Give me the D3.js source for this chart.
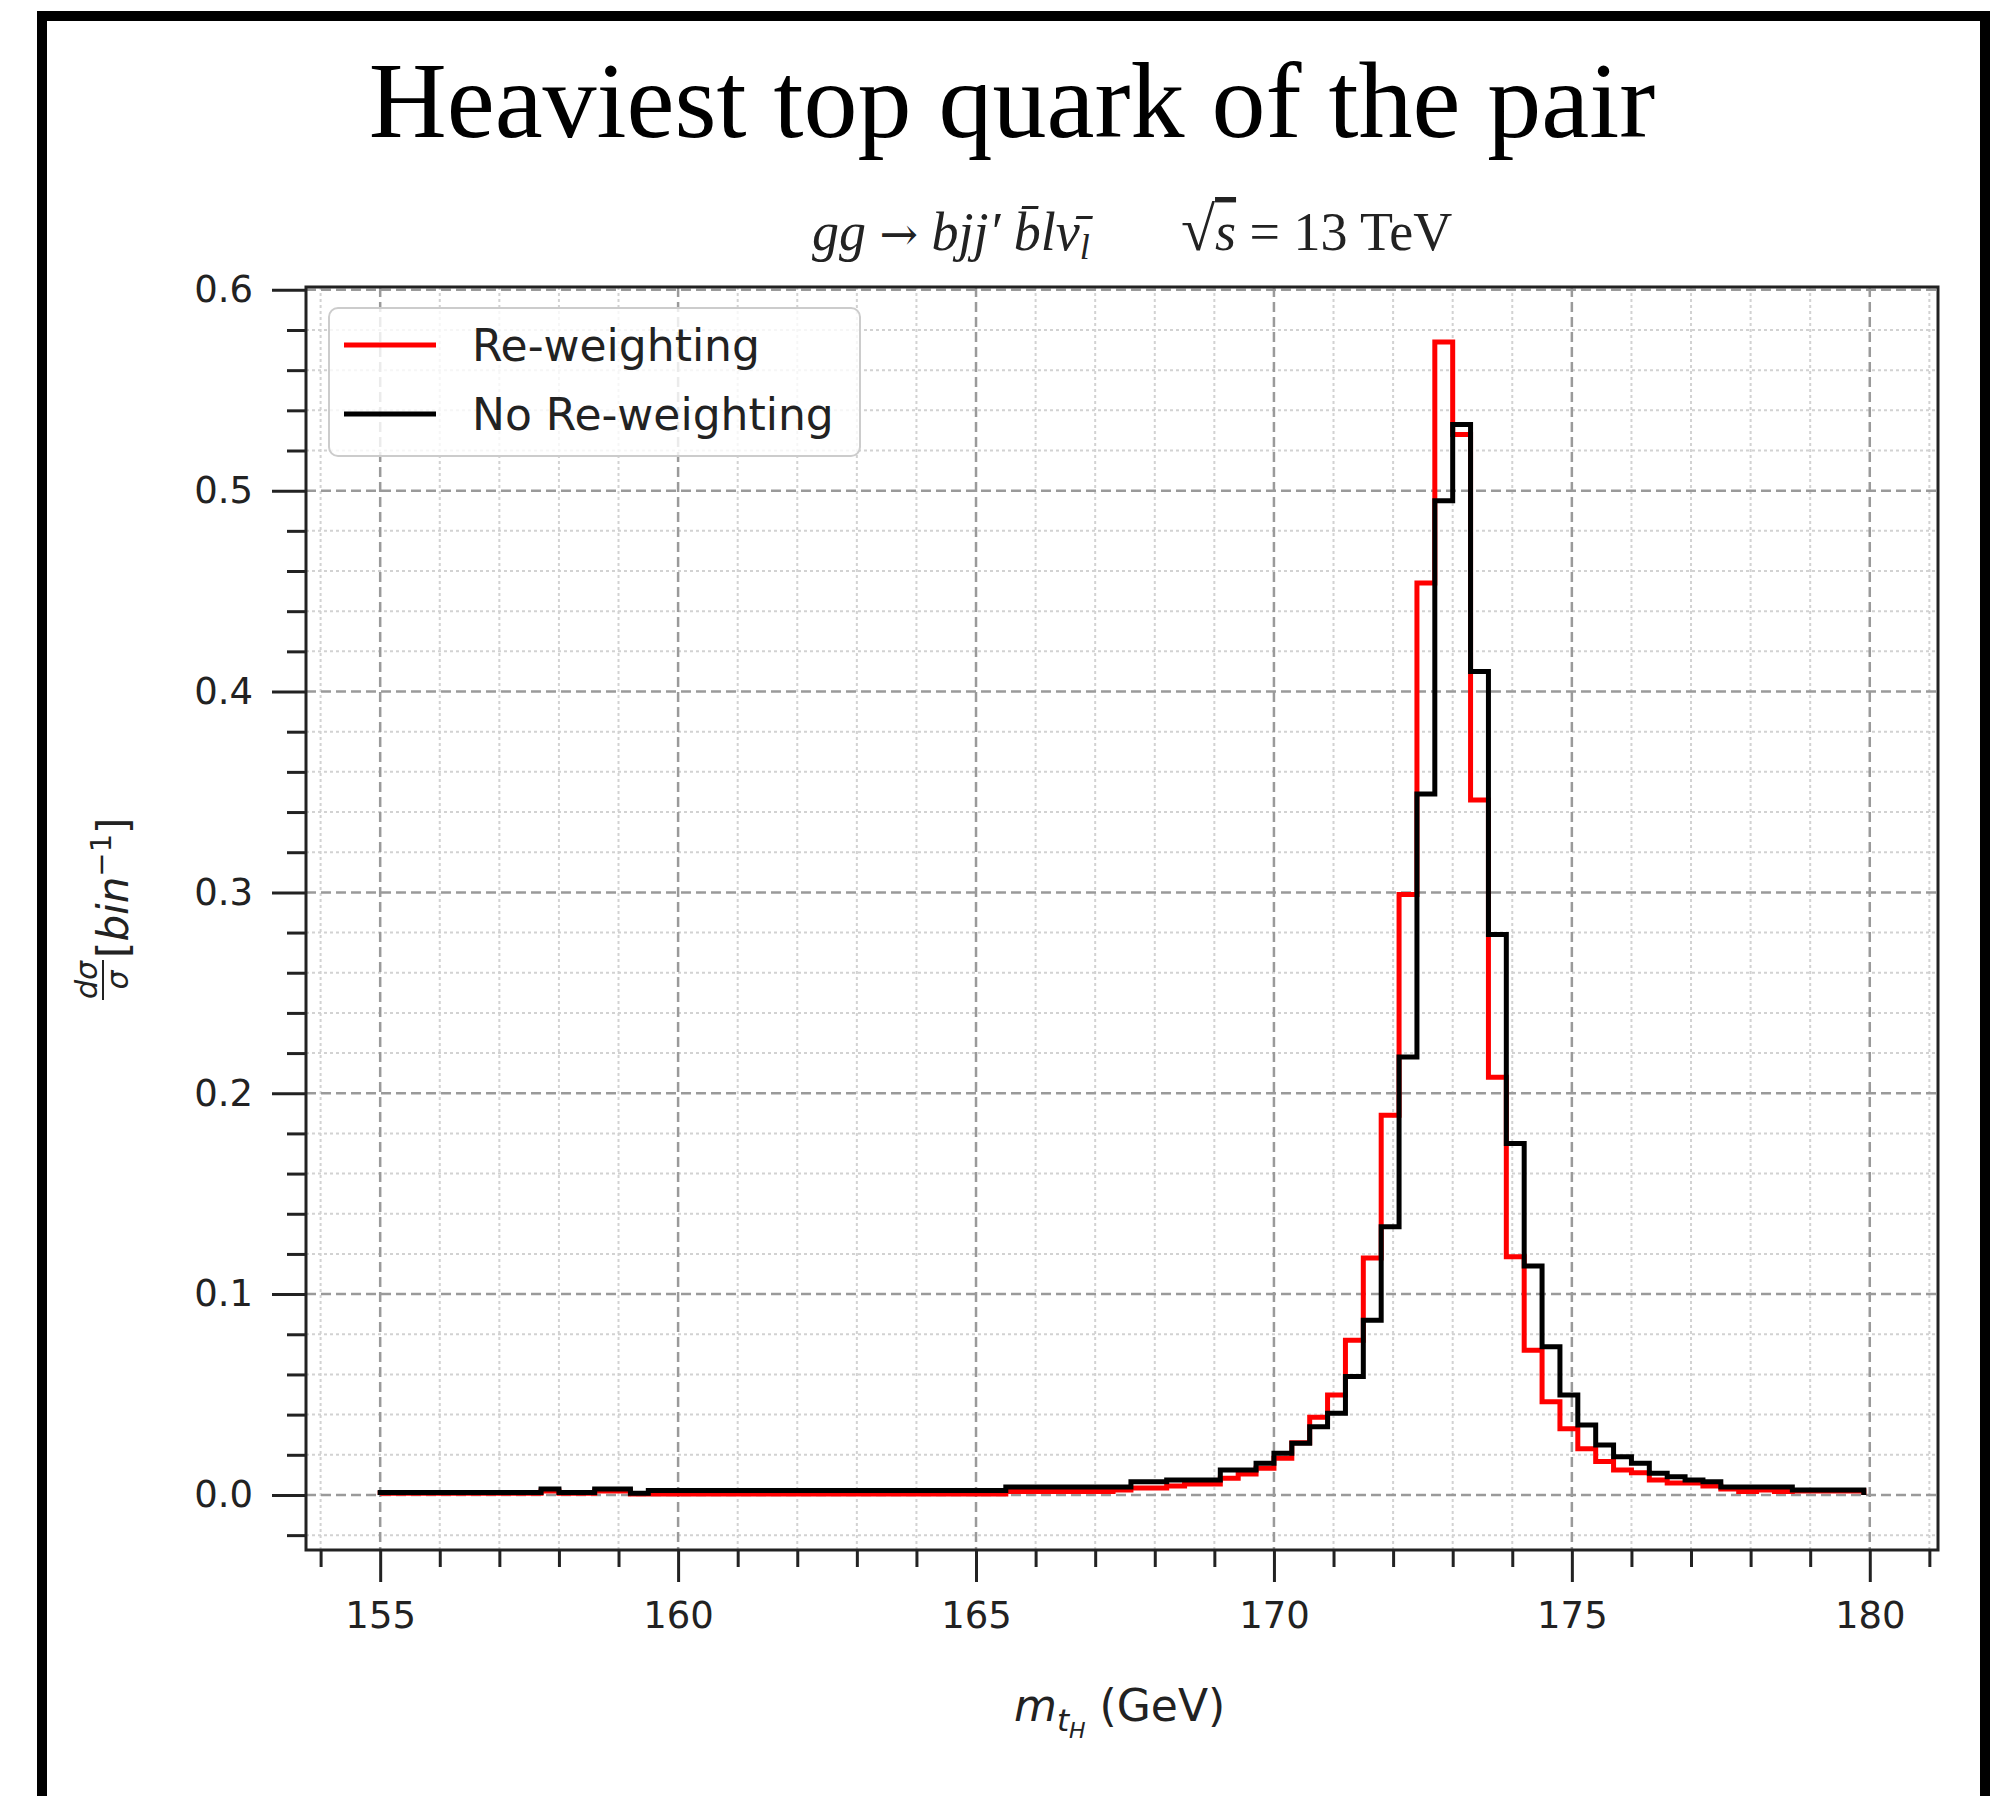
<!DOCTYPE html>
<html>
<head>
<meta charset="utf-8">
<script src="https://cdn.jsdelivr.net/npm/d3@7"></script>
<style>
  body { margin: 0; background: #fff; }
  svg { display: block; }
</style>
</head>
<body>
<svg id="chart"></svg>
<script>
"use strict";

// m_tH histogram, bins of 0.3 GeV from 155 GeV
let binStart = 155;
let binWidth = 0.3;

let reweighted = [
  0.0008, 0.0008, 0.0008, 0.0008, 0.0008, 0.0008, 0.0008, 0.0008, 0.0008, 0.002,
  0.0008, 0.0008, 0.002, 0.002, 0.0005, 0.0005, 0.0005, 0.0005, 0.0005, 0.0005,
  0.0005, 0.0005, 0.0005, 0.0005, 0.0005, 0.0005, 0.0005, 0.0005, 0.0005, 0.0005,
  0.0005, 0.0005, 0.0005, 0.0005, 0.0005, 0.0017, 0.0017, 0.0017, 0.0017, 0.0017,
  0.0017, 0.0025, 0.0035, 0.0035, 0.0045, 0.0055, 0.0055, 0.0083, 0.0105, 0.0133,
  0.0183, 0.026, 0.0387, 0.0498, 0.077, 0.118, 0.189, 0.299, 0.454, 0.574,
  0.528, 0.346, 0.208, 0.1186, 0.072, 0.0464, 0.033, 0.023, 0.0166, 0.0124,
  0.011, 0.0075, 0.006, 0.006, 0.0045, 0.003, 0.0017, 0.0025, 0.0017, 0.002,
  0.002, 0.002, 0.002
];

let noReweight = [
  0.0012, 0.0012, 0.0012, 0.0012, 0.0012, 0.0012, 0.0012, 0.0012, 0.0012, 0.003,
  0.0012, 0.0012, 0.003, 0.003, 0.0008, 0.0022, 0.0022, 0.0022, 0.0022, 0.0022,
  0.0022, 0.0022, 0.0022, 0.0022, 0.0022, 0.0022, 0.0022, 0.0022, 0.0022, 0.0022,
  0.0022, 0.0022, 0.0022, 0.0022, 0.0022, 0.004, 0.004, 0.004, 0.004, 0.004,
  0.004, 0.004, 0.0066, 0.0066, 0.0075, 0.0075, 0.0075, 0.0124, 0.0124, 0.0158,
  0.0208, 0.0257, 0.034, 0.0407, 0.059, 0.087, 0.1335, 0.218, 0.349, 0.495,
  0.533, 0.410, 0.279, 0.175, 0.114, 0.0738, 0.0498, 0.0348, 0.0249, 0.019,
  0.0158, 0.0108, 0.0091, 0.0075, 0.0066, 0.004, 0.004, 0.004, 0.004, 0.0025,
  0.0025, 0.0025, 0.0025
];

let seriesNames = ['Re-weighting', 'No Re-weighting'];
let seriesColors = ['#ff0000', '#000000'];

let xTicks = [155, 160, 165, 170, 175, 180];
let xMinor = [154, 156, 157, 158, 159, 161, 162, 163, 164, 166, 167, 168, 169,
  171, 172, 173, 174, 176, 177, 178, 179, 181];
let yTicks = [0.0, 0.1, 0.2, 0.3, 0.4, 0.5, 0.6];
let yMinor = [-0.02, 0.02, 0.04, 0.06, 0.08, 0.12, 0.14, 0.16, 0.18, 0.22, 0.24,
  0.26, 0.28, 0.32, 0.34, 0.36, 0.38, 0.42, 0.44, 0.46, 0.48, 0.52, 0.54, 0.56, 0.58];

let W = 1998, H = 1796;
let plot = { left: 306, right: 1938, top: 287, bottom: 1550 };
let ink = '#222';

let svg = d3.select('#chart').attr('width', W).attr('height', H);
svg.append('rect').attr('width', W).attr('height', H).attr('fill', '#fff');

// black frame round the slide
svg.append('rect')
  .attr('x', 42).attr('y', 16).attr('width', 1943).attr('height', 1900)
  .attr('fill', 'none').attr('stroke', '#000').attr('stroke-width', 10);

// titles
svg.append('text')
  .attr('x', 1012).attr('y', 137)
  .attr('text-anchor', 'middle')
  .attr('font-family', 'Liberation Serif')
  .attr('font-size', 108)
  .attr('fill', '#000')
  .text('Heaviest top quark of the pair');

let sub1 = svg.append('text')
  .attr('x', 812).attr('y', 250)
  .attr('font-family', 'Liberation Serif')
  .attr('font-size', 54)
  .attr('fill', ink);
sub1.append('tspan').attr('font-style', 'italic').text('gg ');
sub1.append('tspan').attr('font-family', 'DejaVu Serif').attr('font-size', 46).text('→');
sub1.append('tspan').attr('font-style', 'italic').text(' bjj′ b̄lν̄');
sub1.append('tspan').attr('font-style', 'italic').attr('font-size', 36).attr('dy', 9).text('l');

let sub2 = svg.append('text')
  .attr('x', 1181).attr('y', 250)
  .attr('font-family', 'Liberation Serif')
  .attr('font-size', 54)
  .attr('fill', ink);
sub2.append('tspan').attr('font-size', 62).text('√');
sub2.append('tspan').attr('font-style', 'italic').style('text-decoration', 'overline').text('s');
sub2.append('tspan').text(' = 13 TeV');

let x = d3.scaleLinear().domain([153.755, 181.145]).range([plot.left, plot.right]);
let y = d3.scaleLinear().domain([-0.0274, 0.6014]).range([plot.bottom, plot.top]);

// grid, minor dotted then major dashed
let grid = svg.append('g');
grid.selectAll('.xmin').data(xMinor).enter().append('line')
  .attr('x1', (d) => x(d)).attr('x2', (d) => x(d))
  .attr('y1', plot.top).attr('y2', plot.bottom)
  .attr('stroke', '#d2d2d2').attr('stroke-width', 2).attr('stroke-dasharray', '3,3');
grid.selectAll('.ymin').data(yMinor).enter().append('line')
  .attr('x1', plot.left).attr('x2', plot.right)
  .attr('y1', (d) => y(d)).attr('y2', (d) => y(d))
  .attr('stroke', '#d2d2d2').attr('stroke-width', 2).attr('stroke-dasharray', '3,3');
grid.selectAll('.xmaj').data(xTicks).enter().append('line')
  .attr('x1', (d) => x(d)).attr('x2', (d) => x(d))
  .attr('y1', plot.top).attr('y2', plot.bottom)
  .attr('stroke', '#9a9a9a').attr('stroke-width', 2.5).attr('stroke-dasharray', '10,5');
grid.selectAll('.ymaj').data(yTicks).enter().append('line')
  .attr('x1', plot.left).attr('x2', plot.right)
  .attr('y1', (d) => y(d)).attr('y2', (d) => y(d))
  .attr('stroke', '#9a9a9a').attr('stroke-width', 2.5).attr('stroke-dasharray', '10,5');

// step histograms
let edges = d3.range(reweighted.length + 1).map((i) => binStart + i * binWidth);

let stepPoints = (vals) => {
  let pts = [[edges[0], 0]];
  vals.forEach((v, i) => pts.push([edges[i], v]));
  pts.push([edges[vals.length], vals[vals.length - 1]]);
  pts.push([edges[vals.length], 0]);
  return pts;
};

let stepLine = d3.line()
  .x((d) => x(d[0]))
  .y((d) => y(d[1]))
  .curve(d3.curveStepAfter);

[reweighted, noReweight].forEach((vals, i) => {
  svg.append('path')
    .attr('d', stepLine(stepPoints(vals)))
    .attr('fill', 'none')
    .attr('stroke', seriesColors[i])
    .attr('stroke-width', 5)
    .attr('stroke-linejoin', 'miter');
});

// spines
svg.append('rect')
  .attr('x', plot.left).attr('y', plot.top)
  .attr('width', plot.right - plot.left).attr('height', plot.bottom - plot.top)
  .attr('fill', 'none').attr('stroke', ink).attr('stroke-width', 3);

let styleAxis = (g) => {
  g.select('.domain').remove();
  g.selectAll('line').attr('stroke', ink).attr('stroke-width', 3);
  g.selectAll('text').attr('fill', ink);
  g.attr('font-family', 'DejaVu Sans').attr('font-size', 37);
};

svg.append('g')
  .attr('transform', `translate(0,${plot.bottom})`)
  .call(d3.axisBottom(x).tickValues(xTicks).tickSize(32).tickPadding(20).tickFormat(d3.format('d')))
  .call(styleAxis);
svg.append('g')
  .attr('transform', `translate(0,${plot.bottom})`)
  .call(d3.axisBottom(x).tickValues(xMinor).tickSize(17).tickFormat(''))
  .call(styleAxis);
svg.append('g')
  .attr('transform', `translate(${plot.left},0)`)
  .call(d3.axisLeft(y).tickValues(yTicks).tickSize(34).tickPadding(19).tickFormat(d3.format('.1f')))
  .call(styleAxis);
svg.append('g')
  .attr('transform', `translate(${plot.left},0)`)
  .call(d3.axisLeft(y).tickValues(yMinor).tickSize(19).tickFormat(''))
  .call(styleAxis);

// x label: m_{t_H} (GeV)
let xl = svg.append('text')
  .attr('x', 1014).attr('y', 1721)
  .attr('font-family', 'DejaVu Sans')
  .attr('font-size', 44)
  .attr('fill', ink);
xl.append('tspan').attr('font-style', 'italic').text('m');
xl.append('tspan').attr('font-style', 'italic').attr('font-size', 31).attr('dy', 10).text('t');
xl.append('tspan').attr('font-style', 'italic').attr('font-size', 22).attr('dy', 7).text('H');
xl.append('tspan').attr('dy', -17).text(' (GeV)');

// y label: dσ/σ [bin^-1]
let yl = svg.append('g')
  .attr('transform', 'translate(128,920) rotate(-90)')
  .attr('font-family', 'DejaVu Sans')
  .attr('fill', ink);
yl.append('text').attr('x', -60).attr('y', -31).attr('text-anchor', 'middle')
  .attr('font-size', 30).attr('font-style', 'italic').text('dσ');
yl.append('line').attr('x1', -80).attr('x2', -40).attr('y1', -25).attr('y2', -25)
  .attr('stroke', ink).attr('stroke-width', 2);
yl.append('text').attr('x', -60).attr('y', 0).attr('text-anchor', 'middle')
  .attr('font-size', 30).attr('font-style', 'italic').text('σ');
let ylt = yl.append('text').attr('x', -38).attr('y', 0).attr('font-size', 42);
ylt.append('tspan').text('[');
ylt.append('tspan').attr('font-style', 'italic').text('bin');
ylt.append('tspan').attr('font-size', 29).attr('dy', -17).text('−1');
ylt.append('tspan').attr('dy', 17).text(']');

// legend
let legend = svg.append('g');
legend.append('rect')
  .attr('x', 329).attr('y', 308).attr('width', 531).attr('height', 148).attr('rx', 9)
  .attr('fill', '#fff').attr('fill-opacity', 0.8)
  .attr('stroke', '#cccccc').attr('stroke-width', 2);
let rows = legend.selectAll('.row')
  .data(seriesNames)
  .enter()
  .append('g')
  .attr('transform', (d, i) => `translate(0,${345 + i * 69})`);
rows.append('line')
  .attr('x1', 344).attr('x2', 436)
  .attr('stroke', (d, i) => seriesColors[i])
  .attr('stroke-width', 5);
rows.append('text')
  .attr('x', 472).attr('y', 16)
  .attr('font-family', 'DejaVu Sans')
  .attr('font-size', 44)
  .attr('fill', ink)
  .text((d) => d);
</script>
</body>
</html>
